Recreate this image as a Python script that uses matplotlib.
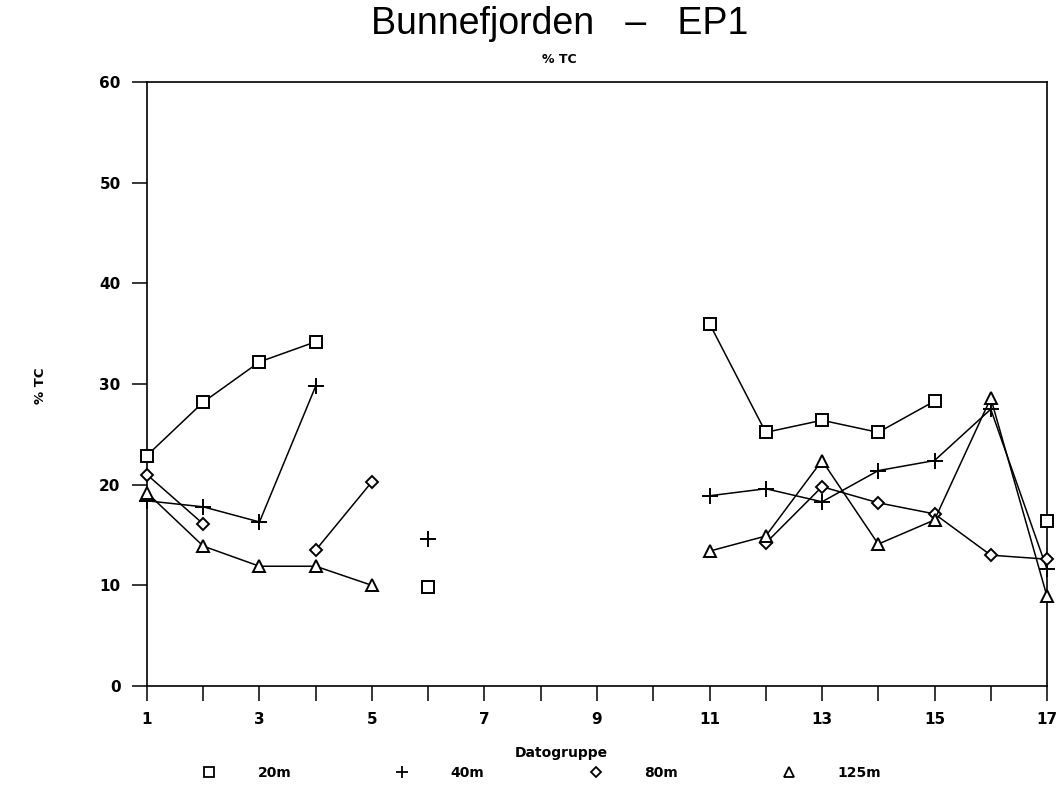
import numpy as np
import matplotlib
matplotlib.use("Agg")
import matplotlib.pyplot as plt
from matplotlib.lines import Line2D

nan = np.nan

# Datogruppe 1..17
datogruppe = [1, 2, 3, 4, 5, 6, 7, 8, 9, 10, 11, 12, 13, 14, 15, 16, 17]

# % TC per dyp (nan = ingen maaling)
tc_20m = [22.9, 28.2, 32.2, 34.2, nan, 9.8, nan, nan, nan, nan,
          36.0, 25.2, 26.4, 25.2, 28.3, nan, 16.4]
tc_40m = [18.4, 17.8, 16.3, 29.8, nan, 14.6, nan, nan, nan, nan,
          18.9, 19.6, 18.3, 21.4, 22.4, 27.5, 11.6]
tc_80m = [21.0, 16.1, nan, 13.5, 20.3, nan, nan, nan, nan, nan,
          nan, 14.2, 19.8, 18.2, 17.1, 13.0, 12.6]
tc_125m = [19.2, 13.9, 11.9, 11.9, 10.0, nan, nan, nan, nan, nan,
           13.4, 14.9, 22.4, 14.1, 16.5, 28.6, 8.9]

serie_navn = ["20m", "40m", "80m", "125m"]
markorer = ["s", "+", "D", "^"]
storrelser = [9, 11, 6, 8]

fig = plt.figure(figsize=(10.62, 7.88), dpi=100)
ax = fig.add_axes([0.1384, 0.1294, 0.8475, 0.7665])

for verdier, m, ms in zip([tc_20m, tc_40m, tc_80m, tc_125m], markorer, storrelser):
    ax.plot(datogruppe, verdier, color="black", lw=1.1, marker=m, ms=ms,
            mfc="white", mec="black", mew=1.4, clip_on=False, zorder=3)

ax.set_xlim(1, 17)
ax.set_ylim(0, 60)
ax.set_xticks(datogruppe)
ax.set_xticklabels([str(d) if d % 2 == 1 else "" for d in datogruppe])
ax.set_yticks([0, 10, 20, 30, 40, 50, 60])
ax.tick_params(axis="both", direction="out", length=11, width=1.1,
               labelsize=11, colors="black", pad=8)
for lab in ax.get_xticklabels() + ax.get_yticklabels():
    lab.set_fontweight("bold")
for sp in ax.spines.values():
    sp.set_linewidth(1.2)

fig.text(0.527, 0.969, "Bunnefjorden   \u2013   EP1", ha="center", va="center",
         fontsize=27, family="Liberation Sans")
fig.text(0.527, 0.924, "% TC", ha="center", va="center", fontsize=9,
         fontweight="bold")
fig.text(0.038, 0.511, "% TC", ha="center", va="center", rotation=90,
         fontsize=9.5, fontweight="bold")
fig.text(0.529, 0.045, "Datogruppe", ha="center", va="center", fontsize=10,
         fontweight="bold")

handles = [Line2D([], [], ls="none", marker=m, ms=ms * 0.85, mfc="white",
                  mec="black", mew=1.3) for m, ms in zip(markorer, storrelser)]
fig.legend(handles, serie_navn, loc="center", bbox_to_anchor=(0.51, 0.019),
           ncol=4, frameon=False, handlelength=1.0, handletextpad=3.0,
           columnspacing=7.5, prop={"weight": "bold", "size": 10})

fig.savefig("out.png", dpi=100)
